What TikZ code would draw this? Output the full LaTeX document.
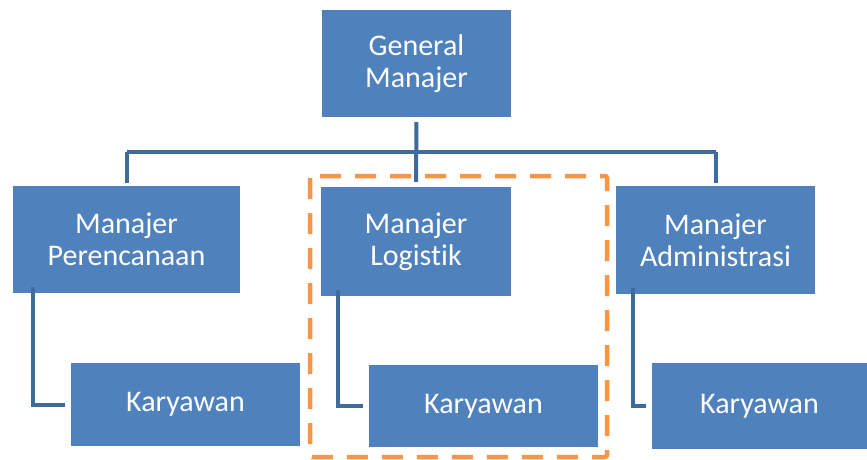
\documentclass[tikz,border=0pt]{standalone}
\usepackage{fontspec}
\setmainfont{Carlito}[Ligatures={NoCommon,NoRare,NoDiscretionary}]
\definecolor{boxblue}{HTML}{4F81BD}
\definecolor{lineblue}{HTML}{3E6A9C}
\definecolor{hlorange}{HTML}{F79646}
\begin{document}
\begin{tikzpicture}[x=1pt,y=-1pt,
  box/.style={fill=boxblue, text=white, align=center, inner sep=0pt,
    font=\fontsize{30}{32}\selectfont},
  conn/.style={draw=lineblue, line width=4pt, line join=miter},
  hl/.style={draw=hlorange, line width=4.5pt, dash pattern=on 21pt off 14pt, rounded corners=2pt}]
\useasboundingbox (0,0) rectangle (867,460);
% boxes
\node[box, minimum width=189pt, minimum height=107pt] (gm) at (416.5,63.5) {General\\Manajer};
\node[box, minimum width=227pt, minimum height=107pt] (mp) at (126.5,239.5) {Manajer\\Perencanaan};
\node[box, minimum width=190pt, minimum height=109pt] (ml) at (416,241.5) {Manajer\\Logistik};
\node[box, minimum width=199pt, minimum height=108pt] (ma) at (715.5,240) {Manajer\\Administrasi};
\node[box, minimum width=229pt, minimum height=83pt] (kl) at (185.5,404.5) {Karyawan};
\node[box, minimum width=229pt, minimum height=82pt] (km) at (483.5,406) {Karyawan};
\node[box, minimum width=215pt, minimum height=86pt] (kr) at (759.5,406) {Karyawan};
\coordinate (bus) at (416,152);
% connectors
\draw[conn, shorten <=5pt, shorten >=5pt] (gm.south) -- (ml.north);
\draw[conn] (mp.north |- bus) -- (ma.north |- bus);
\draw[conn, shorten >=3pt] (mp.north |- bus) -- (mp.north);
\draw[conn, shorten >=3pt] (ma.north |- bus) -- (ma.north);
\draw[conn] ([xshift=20pt,yshift=6pt]mp.south west) |- ([xshift=-6pt]kl.west);
\draw[conn] ([xshift=17pt,yshift=6pt]ml.south west) |- ([xshift=-6pt]km.west);
\draw[conn] ([xshift=17pt,yshift=6pt]ma.south west) |- ([xshift=-6pt]kr.west);
% highlight
\draw[hl] (310,176) rectangle (607,457);
\end{tikzpicture}
\end{document}
